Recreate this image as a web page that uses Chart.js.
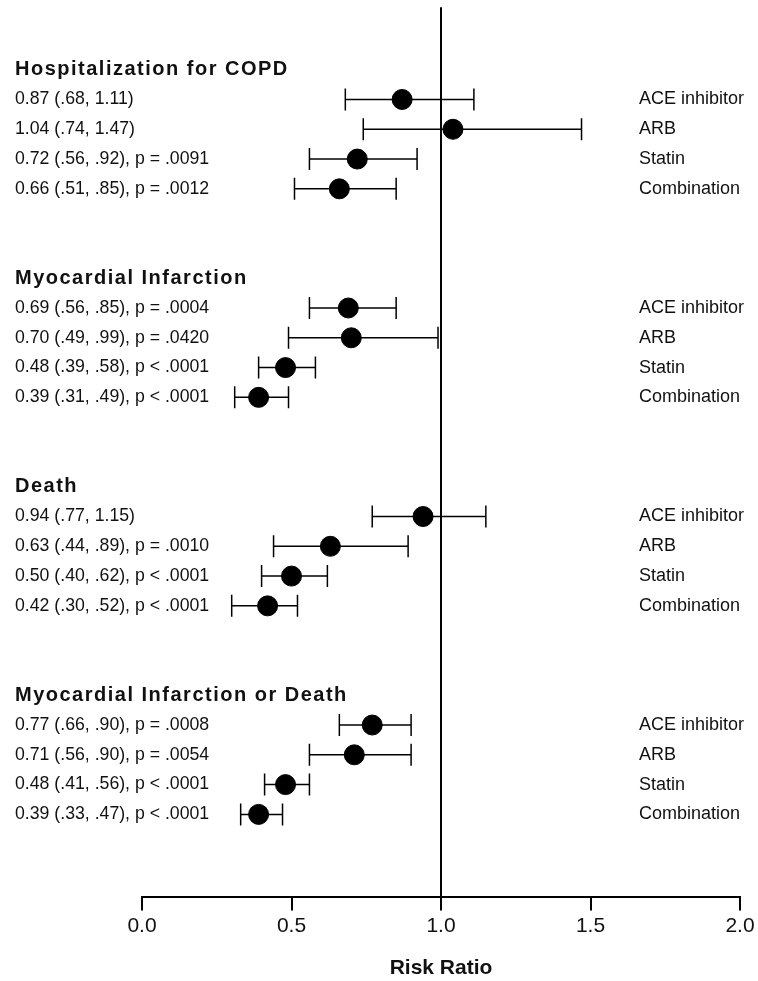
<!DOCTYPE html>
<html>
<head>
<meta charset="utf-8">
<script src="https://cdn.jsdelivr.net/npm/chart.js@4"></script>
<style>
  html, body { margin: 0; padding: 0; background: #fff; }
  canvas { display: block; }
</style>
</head>
<body>
<canvas id="chart" width="758" height="981"></canvas>
<script>
// outcome groups and treatment rows
const outcomes = ['Hospitalization for COPD', 'Myocardial Infarction', 'Death', 'Myocardial Infarction or Death'];
const treatments = ['ACE inhibitor', 'ARB', 'Statin', 'Combination'];

// risk ratios, lower and upper 95% CI, one row per treatment, grouped by outcome
const riskRatio = [0.87, 1.04, 0.72, 0.66,  0.69, 0.70, 0.48, 0.39,  0.94, 0.63, 0.50, 0.42,  0.77, 0.71, 0.48, 0.39];
const ciLower   = [0.68, 0.74, 0.56, 0.51,  0.56, 0.49, 0.39, 0.31,  0.77, 0.44, 0.40, 0.30,  0.66, 0.56, 0.41, 0.33];
const ciUpper   = [1.11, 1.47, 0.92, 0.85,  0.85, 0.99, 0.58, 0.49,  1.15, 0.89, 0.62, 0.52,  0.90, 0.90, 0.56, 0.47];
const pValues   = ['', '', 'p = .0091', 'p = .0012',
                   'p = .0004', 'p = .0420', 'p < .0001', 'p < .0001',
                   '', 'p = .0010', 'p < .0001', 'p < .0001',
                   'p = .0008', 'p = .0054', 'p < .0001', 'p < .0001'];
const xTicks = [0, 0.5, 1.0, 1.5, 2.0];

const GROUP_GAP = 7;
function rowPos(i) { return Math.floor(i / 4) * GROUP_GAP + (i % 4); }
function ci(v) { return v < 1 ? v.toFixed(2).replace(/^0/, '') : v.toFixed(2); }
function rowText(i) {
    let s = riskRatio[i].toFixed(2) + ' (' + ci(ciLower[i]) + ', ' + ci(ciUpper[i]) + ')';
    if (pValues[i]) s += ', ' + pValues[i];
    return s;
}

const Y_MIN = -2.92, Y_MAX = 26.76;
const LINE_TOP = -3.1; // reference line reaches a little above the plot area
const FONT = '"Liberation Sans", Arial, sans-serif';

let datasets = [];
// point estimates
datasets.push({
    type: 'scatter',
    data: riskRatio.map((v, i) => ({x: v, y: rowPos(i)})),
    pointRadius: 10,
    pointHoverRadius: 10,
    backgroundColor: '#000',
    borderColor: '#000',
    order: 0
});
// confidence intervals with end caps
for (let i = 0; i < riskRatio.length; i++) {
    datasets.push({
        type: 'line',
        data: [{x: ciLower[i], y: rowPos(i)}, {x: ciUpper[i], y: rowPos(i)}],
        borderColor: '#000',
        borderWidth: 1.5,
        pointStyle: 'line',
        pointRotation: 90,
        pointRadius: 11,
        pointHoverRadius: 11,
        pointBorderWidth: 1.5,
        pointBorderColor: '#000',
        order: 1
    });
}
// line of no effect
datasets.push({
    type: 'line',
    data: [{x: 1, y: LINE_TOP}, {x: 1, y: Y_MAX}],
    borderColor: '#000',
    borderWidth: 2,
    pointRadius: 0,
    clip: false,
    order: 2
});

const labelsPlugin = {
    id: 'forestLabels',
    afterDraw(chart) {
        const ctx = chart.ctx;
        const y = chart.scales.y;
        ctx.save();
        ctx.fillStyle = '#111';
        ctx.textBaseline = 'middle';
        ctx.textAlign = 'left';
        // group headers
        ctx.font = 'bold 20px ' + FONT;
        ctx.letterSpacing = '1.5px';
        outcomes.forEach((o, g) => {
            ctx.fillText(o, 15, y.getPixelForValue(g * GROUP_GAP - 1));
        });
        ctx.letterSpacing = '0px';
        for (let i = 0; i < riskRatio.length; i++) {
            const py = y.getPixelForValue(rowPos(i));
            ctx.font = '17.7px ' + FONT;
            ctx.fillText(rowText(i), 15, py);
            ctx.font = '18px ' + FONT;
            ctx.fillText(treatments[i % 4], 639, py);
        }
        ctx.restore();
    }
};

new Chart(document.getElementById('chart'), {
    type: 'scatter',
    data: {datasets: datasets},
    options: {
        responsive: false,
        animation: false,
        layout: {padding: {left: 142, right: 18, top: 3, bottom: 0}},
        plugins: {legend: {display: false}, tooltip: {enabled: false}},
        scales: {
            x: {
                type: 'linear',
                min: 0,
                max: 2,
                afterBuildTicks: (axis) => { axis.ticks = xTicks.map(v => ({value: v})); },
                grid: {drawOnChartArea: false, drawTicks: true, tickLength: 14, color: '#000', lineWidth: 2},
                border: {display: true, color: '#000', width: 2},
                ticks: {
                    color: '#111',
                    padding: 3,
                    maxRotation: 0,
                    font: {family: FONT, size: 21},
                    callback: (v) => Number(v).toFixed(1)
                },
                title: {
                    display: true,
                    text: 'Risk Ratio',
                    color: '#111',
                    padding: {top: 14, bottom: 0},
                    font: {family: FONT, size: 21, weight: 'bold'}
                }
            },
            y: {
                type: 'linear',
                display: false,
                reverse: true,
                min: Y_MIN,
                max: Y_MAX
            }
        }
    },
    plugins: [labelsPlugin]
});
</script>
</body>
</html>
